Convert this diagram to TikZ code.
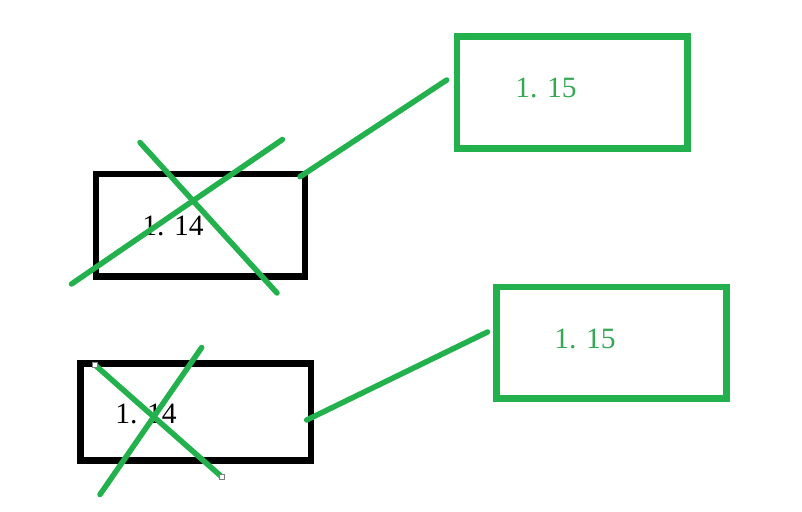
\documentclass[tikz,border=0pt]{standalone}
\usepackage{fontspec}
\setmainfont{Liberation Serif}
\definecolor{pgreen}{RGB}{34,177,76}
\definecolor{tgreen}{RGB}{52,168,84}
\begin{document}
\begin{tikzpicture}[x=1pt,y=-1pt,
  oldbox/.style={draw=black,line width=6.5pt,inner sep=0pt,minimum width=#1},
  newbox/.style={draw=pgreen,line width=6.5pt,inner sep=0pt,minimum width=#1},
  crossline/.style={draw=pgreen,line width=5.5pt,line cap=round},
  label/.style={inner sep=0pt,font=\fontsize{29.5}{30}\selectfont},
  handle/.style={draw=gray,fill=white,line width=0.8pt,inner sep=0pt,minimum size=5pt}]
\useasboundingbox[fill=white] (0,0) rectangle (802,511);
% boxes
\node[oldbox=209pt,minimum height=102.5pt] (b1) at (200.5,225.25) {};
\node[newbox=230.5pt,minimum height=111.6pt] (g1) at (572.25,92.5) {};
\node[oldbox=230.3pt,minimum height=97pt] (b2) at (195.85,412.2) {};
\node[newbox=230pt,minimum height=111.3pt] (g2) at (611.7,342.65) {};
% labels
\node[label] (t1) at (173,225.5) {1. 14};
\node[label] (t2) at (146,414) {1. 14};
\node[label,text=tgreen] (t3) at (546,88.3) {1. 15};
\node[label,text=tgreen] (t4) at (585,339.2) {1. 15};
% crossing lines, box 1
\coordinate (a1) at (71.5,284);
\coordinate (a2) at (282.5,139.5);
\coordinate (a3) at (140,142.5);
\coordinate (a4) at (277,293);
\draw[crossline] (a1) -- (a2);
\draw[crossline] (a3) -- (a4);
% crossing lines, box 2
\coordinate (c1) at (95,365);
\coordinate (c2) at (222.3,477.3);
\coordinate (c3) at (201.7,347.5);
\coordinate (c4) at (100,494.5);
\draw[crossline] (c1) -- (c2);
\draw[crossline] (c3) -- (c4);
\node[handle] (h1) at (c1) {};
\node[handle] (h2) at (c2) {};
% connectors
\coordinate (k1) at (300,176.7);
\coordinate (k2) at (446.7,80);
\draw[crossline] (k1) -- (k2);
\coordinate (k3) at (306.7,420);
\coordinate (k4) at (487.5,332);
\draw[crossline] (k3) -- (k4);
\end{tikzpicture}
\end{document}
